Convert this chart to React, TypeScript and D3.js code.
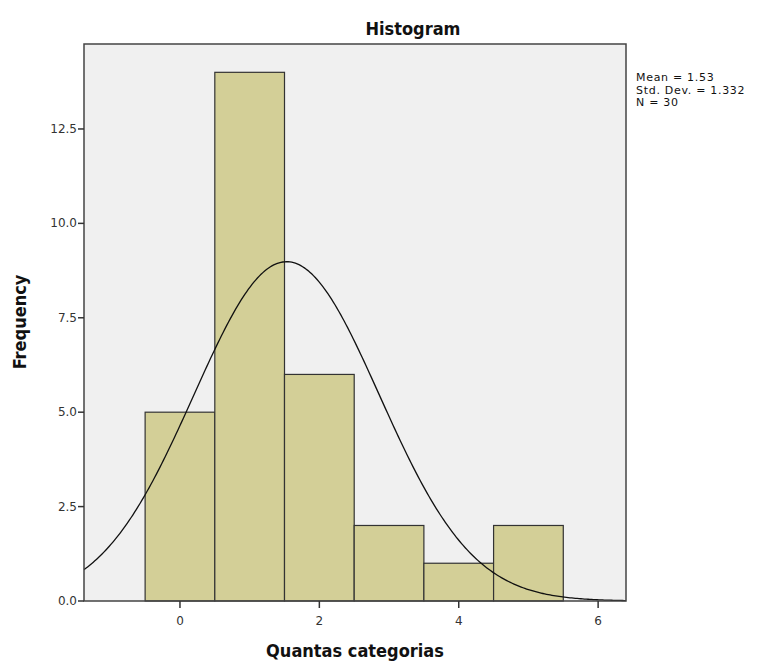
import React from "react";
import * as d3 from "d3";

const binCenters = [0, 1, 2, 3, 4, 5];
const frequencies = [5, 14, 6, 2, 1, 2];
const xTicks = [0, 2, 4, 6];
const yTicks = [0, 2.5, 5, 7.5, 10, 12.5];
const statMean = 1.53;
const statSd = 1.332;
const statN = 30;
const statLines = ["Mean = 1.53", "Std. Dev. = 1.332", "N = 30"];

export default function App() {
  const W = 763, H = 662;
  const left = 84, right = 626, top = 44, bottom = 601;
  const x = d3.scaleLinear().domain([-1.377, 6.4]).range([left, right]);
  const y = d3.scaleLinear().domain([0, 14.75]).range([bottom, top]);
  const binW = 1;
  const pdf = (v: number) =>
    (statN * binW) / (statSd * Math.sqrt(2 * Math.PI)) *
    Math.exp(-0.5 * ((v - statMean) / statSd) ** 2);
  const pts = d3.range(0, 301).map((i) => {
    const v = -1.377 + (i / 300) * (6.4 + 1.377);
    return [x(v), y(pdf(v))] as [number, number];
  });
  const line = d3.line()(pts) || "";
  const font = "'DejaVu Sans', sans-serif";
  const titleFont = "'DejaVu Sans Condensed', 'DejaVu Sans', sans-serif";
  return (
    <svg width={W} height={H} style={{ position: "absolute", left: 0, top: 0 }}>
      <rect x={0} y={0} width={W} height={H} fill="#fff" />
      <text x={413} y={35} textAnchor="middle" fontFamily={titleFont} fontWeight="bold" fontSize={18} fill="#111">Histogram</text>
      <rect x={left} y={top} width={right - left} height={bottom - top} fill="#f0f0f0" />
      {binCenters.map((c, i) => (
        <rect key={i} x={x(c - 0.5)} y={y(frequencies[i])} width={x(c + 0.5) - x(c - 0.5)} height={bottom - y(frequencies[i])}
          fill="#d3cf97" stroke="#333" strokeWidth={1.2} />
      ))}
      <path d={line} fill="none" stroke="#111" strokeWidth={1.3} />
      <rect x={left} y={top} width={right - left} height={bottom - top} fill="none" stroke="#444" strokeWidth={1.5} />
      {yTicks.map((t) => (
        <g key={t}>
          <line x1={left - 6} x2={left} y1={y(t)} y2={y(t)} stroke="#333" strokeWidth={1.5} />
          <text x={left - 7} y={y(t) + 4} textAnchor="end" fontFamily={font} fontSize={12} fill="#333">{t.toFixed(1)}</text>
        </g>
      ))}
      {xTicks.map((t) => (
        <g key={t}>
          <line x1={x(t)} x2={x(t)} y1={bottom} y2={bottom + 7} stroke="#333" strokeWidth={1.5} />
          <text x={x(t)} y={bottom + 24} textAnchor="middle" fontFamily={font} fontSize={12} fill="#333">{t}</text>
        </g>
      ))}
      <text x={355} y={657} textAnchor="middle" fontFamily={titleFont} fontWeight="bold" fontSize={18} fill="#111">Quantas categorias</text>
      <text transform="translate(26,322) rotate(-90)" textAnchor="middle" fontFamily={titleFont} fontWeight="bold" fontSize={18} fill="#111">Frequency</text>
      {statLines.map((s, i) => (
        <text key={i} x={636} y={81 + i * 12.5} fontFamily={font} fontSize={11} letterSpacing={0.7} fill="#111">{s}</text>
      ))}
    </svg>
  );
}
